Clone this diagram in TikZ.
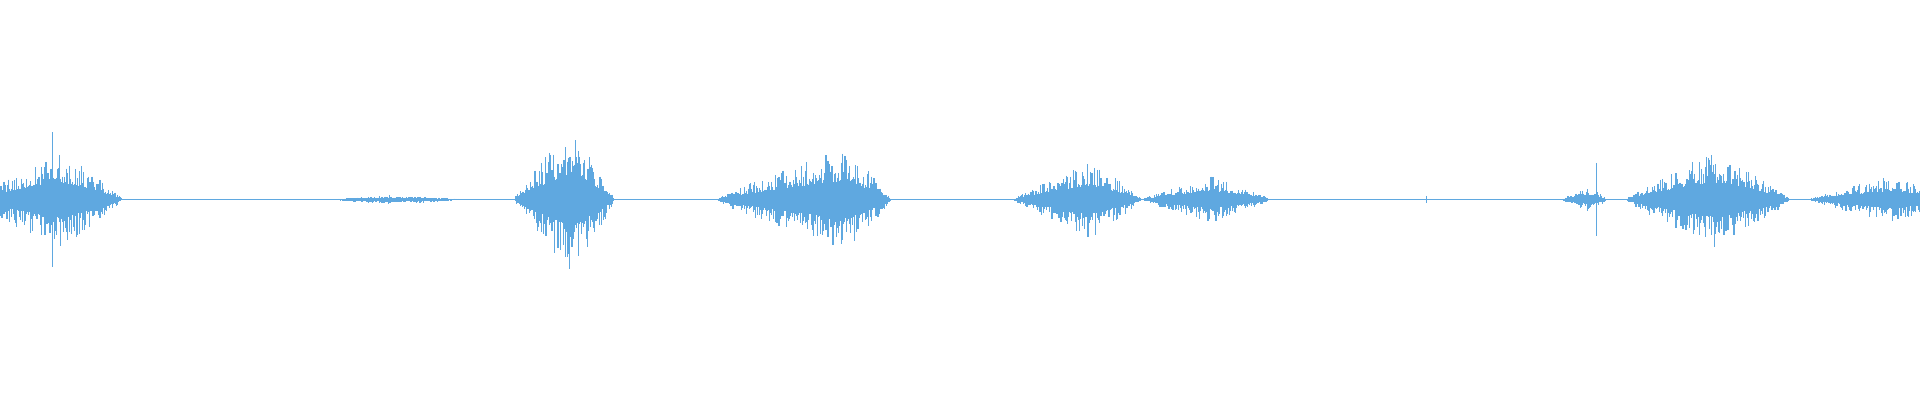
\documentclass[tikz,border=0pt]{standalone}
\definecolor{wave}{HTML}{5FA8E0}
\newcommand\myburst[5]{% start, peak, end, amplitude, step
  \pgfmathsetmacro\mysecond{#1+#5}%
  \foreach \xx in {#1,\mysecond,...,#3}{%
    \pgfmathsetmacro\myt{\xx<#2 ? (\xx-#1)/(#2-#1+0.001) : (#3-\xx)/(#3-#2+0.001)}%
    \pgfmathsetmacro\myt{max(\myt,0.001)}%
    \pgfmathsetmacro\mya{163+#4*(\myt^0.85)*(0.45+0.8*rnd^2)+0.3}%
    \pgfmathsetmacro\myb{163-#4*(\myt^0.85)*(0.45+0.8*rnd^2)-0.3}%
    \draw[wave,line width=0.35pt] (\xx,\mya) -- (\xx,\myb);
  }}
\begin{document}
\begin{tikzpicture}[x=0.012245cm,y=0.012245cm]
\useasboundingbox (0,0) rectangle (1568,326);
\pgfmathsetseed{7}
\draw[wave,line width=0.5pt] (0,163) -- (1568,163);
\myburst{-20}{48}{100}{32}{0.8}
\draw[wave,line width=0.4pt] (43,218) -- (43,108);
\myburst{272}{320}{378}{3}{1}
\myburst{420}{466}{502}{46}{0.7}
\myburst{585}{690}{728}{33}{0.8}
\myburst{828}{890}{932}{25}{0.8}
\myburst{933}{990}{1037}{15}{0.8}
\myburst{1275}{1300}{1312}{8}{0.8}
\draw[wave,line width=0.4pt] (1304,193) -- (1304,133);
\draw[wave,line width=0.4pt] (1165,166) -- (1165,160);
\myburst{1328}{1400}{1462}{31}{0.8}
\myburst{1478}{1545}{1600}{15}{0.8}
\end{tikzpicture}
\end{document}
